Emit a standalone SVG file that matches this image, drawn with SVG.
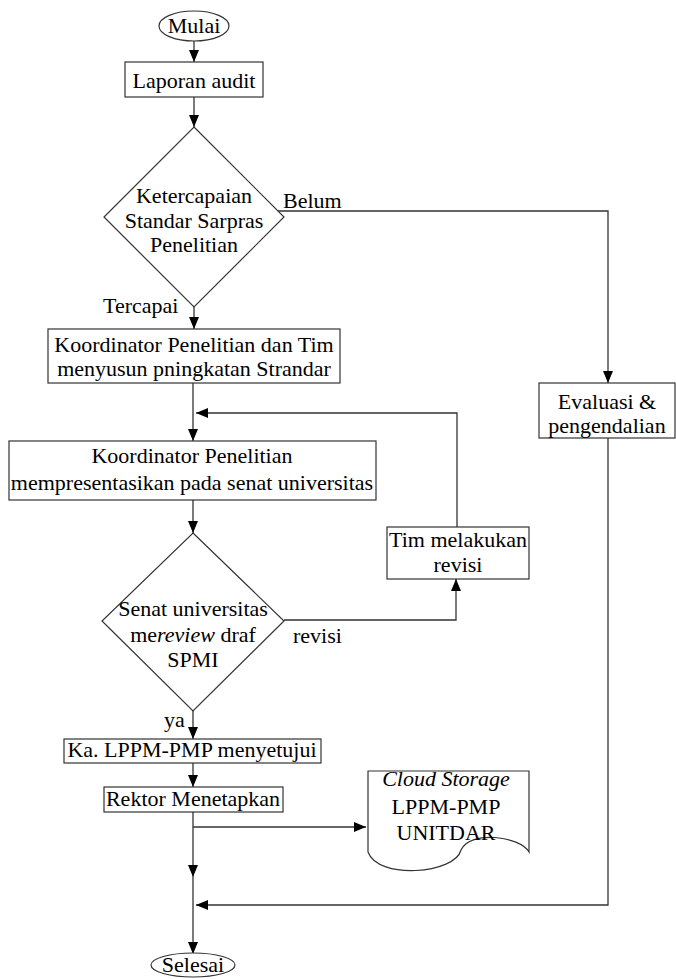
<svg xmlns="http://www.w3.org/2000/svg" width="676" height="979" viewBox="0 0 676 979" font-family="Liberation Serif, serif" font-size="22">
<defs>
<marker id="ah" markerUnits="userSpaceOnUse" markerWidth="12" markerHeight="10" refX="12" refY="5" orient="auto">
<path d="M0,0 L12,5 L0,10 Z" fill="#000"/>
</marker>
</defs>
<style>
.s{fill:#fff;stroke:#333;stroke-width:1.2}
.c{fill:none;stroke:#333;stroke-width:1.3}
text{fill:#000}
.m{text-anchor:middle}
</style>
<rect width="676" height="979" fill="#fff"/>
<g id="connectors">
<line class="c" x1="194" y1="41" x2="194" y2="62" marker-end="url(#ah)"/>
<line class="c" x1="194" y1="97" x2="194" y2="127" marker-end="url(#ah)"/>
<polyline class="c" points="278,211 608,211 608,383" marker-end="url(#ah)"/>
<line class="c" x1="194" y1="307" x2="194" y2="329" marker-end="url(#ah)"/>
<line class="c" x1="193" y1="383" x2="193" y2="441" marker-end="url(#ah)"/>
<polyline class="c" points="457,527 457,413 196,413" marker-end="url(#ah)"/>
<line class="c" x1="193" y1="500" x2="193" y2="533" marker-end="url(#ah)"/>
<polyline class="c" points="284,620 456,620 456,579" marker-end="url(#ah)"/>
<line class="c" x1="193" y1="711" x2="193" y2="739" marker-end="url(#ah)"/>
<line class="c" x1="193" y1="763" x2="193" y2="787" marker-end="url(#ah)"/>
<line class="c" x1="193" y1="812" x2="193" y2="877" marker-end="url(#ah)"/>
<line class="c" x1="193" y1="877" x2="193" y2="954" marker-end="url(#ah)"/>
<line class="c" x1="193" y1="827" x2="366" y2="827" marker-end="url(#ah)"/>
<polyline class="c" points="608,438 608,905 196,905" marker-end="url(#ah)"/>
<text x="283" y="208">Belum</text>
<text x="103" y="313">Tercapai</text>
<text x="293" y="643">revisi</text>
<text x="164" y="727">ya</text>
</g>
<g id="mulai">
<ellipse class="s" cx="194" cy="26" rx="35" ry="15"/>
<text class="m" x="194" y="33">Mulai</text>
</g>
<g id="laporan">
<rect class="s" x="125" y="62" width="138" height="35"/>
<text class="m" x="194" y="88">Laporan audit</text>
</g>
<g id="ketercapaian">
<polygon class="s" points="194,127 284,217 194,307 104,217"/>
<text class="m" x="194" y="203">Ketercapaian</text>
<text class="m" x="194" y="228">Standar Sarpras</text>
<text class="m" x="194" y="252">Penelitian</text>
</g>
<g id="koordinator-tim">
<rect class="s" x="48" y="329" width="292" height="54"/>
<text class="m" x="194" y="352">Koordinator Penelitian dan Tim</text>
<text class="m" x="194" y="376">menyusun pningkatan Strandar</text>
</g>
<g id="presentasi">
<rect class="s" x="9" y="441" width="367" height="59"/>
<text class="m" x="192" y="463">Koordinator Penelitian</text>
<text class="m" x="192" y="490">mempresentasikan pada senat universitas</text>
</g>
<g id="senat">
<polygon class="s" points="193,533 284,621 193,711 102,621"/>
<text class="m" x="193" y="616">Senat universitas</text>
<text class="m" x="193" y="642">me<tspan font-style="italic">review</tspan> draf</text>
<text class="m" x="193" y="667">SPMI</text>
</g>
<g id="revisi">
<rect class="s" x="387" y="527" width="142" height="52"/>
<text class="m" x="458" y="547">Tim melakukan</text>
<text class="m" x="458" y="572">revisi</text>
</g>
<g id="evaluasi">
<rect class="s" x="539" y="383" width="136" height="55"/>
<text class="m" x="607" y="409">Evaluasi &amp;</text>
<text class="m" x="607" y="433">pengendalian</text>
</g>
<g id="ka-lppm">
<rect class="s" x="64" y="739" width="257" height="24"/>
<text class="m" x="192" y="757">Ka. LPPM-PMP menyetujui</text>
</g>
<g id="rektor">
<rect class="s" x="104" y="787" width="179" height="25"/>
<text class="m" x="193" y="806">Rektor Menetapkan</text>
</g>
<g id="cloud">
<path class="s" d="M368,771 H529 V852 C520,836 470,830 461,850 C455,874 378,880 368,852 Z"/>
<text class="m" x="446" y="786" font-style="italic">Cloud Storage</text>
<text class="m" x="446" y="814">LPPM-PMP</text>
<text class="m" x="446" y="840">UNITDAR</text>
</g>
<g id="selesai">
<ellipse class="s" cx="193" cy="965" rx="42" ry="12"/>
<text class="m" x="193" y="972">Selesai</text>
</g>
</svg>
